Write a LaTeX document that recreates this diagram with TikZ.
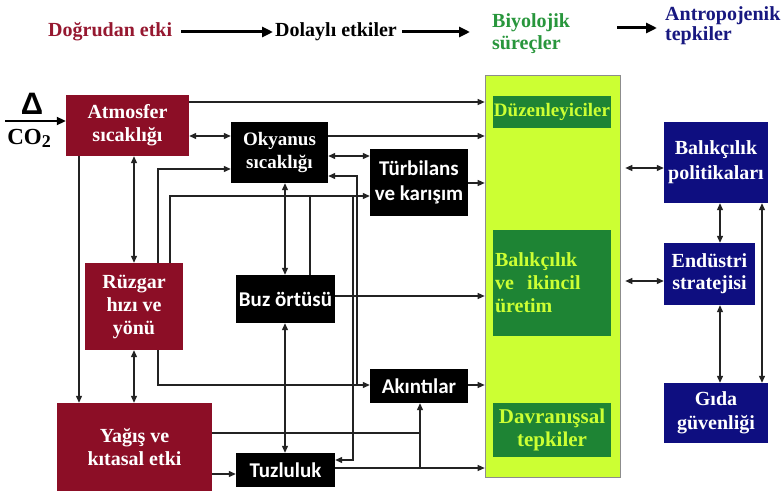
\documentclass[tikz,border=0pt]{standalone}
\usepackage{fontspec}
\setmainfont{Liberation Serif}
\newfontfamily\sansb{Carlito}
\newfontfamily\arialf{Liberation Sans}
\usetikzlibrary{arrows.meta}
\definecolor{bred}{RGB}{140,14,38}
\definecolor{hred}{RGB}{150,24,48}
\definecolor{bblue}{RGB}{14,14,128}
\definecolor{hblue}{RGB}{24,24,128}
\definecolor{dgreen}{RGB}{30,132,52}
\definecolor{hgreen}{RGB}{40,150,60}
\definecolor{limec}{RGB}{204,255,51}
\definecolor{linec}{RGB}{35,35,35}
\begin{document}
\begin{tikzpicture}[x=1pt,y=-1pt,
  box/.style={rectangle, inner sep=0pt, align=center, font=\bfseries\fontsize{20}{23}\selectfont},
  redbox/.style={box, fill=bred, text=white},
  blkbox/.style={box, fill=black, text=white},
  sansbox/.style={blkbox, font=\sansb\bfseries\fontsize{21}{25}\selectfont},
  bluebox/.style={box, fill=bblue, text=white},
  grnbox/.style={box, fill=dgreen, text=limec},
  hdr/.style={inner sep=0pt, anchor=west, align=left, font=\bfseries\fontsize{20}{22}\selectfont},
  conn/.style={draw=linec, line width=1.2pt, -{Triangle[length=7pt,width=6pt]}},
  dconn/.style={draw=linec, line width=1.2pt, {Triangle[length=7pt,width=6pt]}-{Triangle[length=7pt,width=6pt]}},
  plainln/.style={draw=linec, line width=1.2pt},
  harr/.style={draw=black, line width=3pt, -{Triangle[length=11pt,width=10pt]}},
]
\useasboundingbox (0,0) rectangle (784,495);
\fill[white] (0,0) rectangle (784,495);

% header
\node[hdr, text=hred] (h1) at (48,32) {Doğrudan etki};
\node[hdr, text=black] (h2) at (275,32) {Dolaylı etkiler};
\node[hdr, text=hgreen] (h3) at (492,34) {Biyolojik\\süreçler};
\node[hdr, text=hblue, font=\bfseries\fontsize{20}{20}\selectfont] (h4) at (665,26) {Antropojenik\\tepkiler};
\coordinate (y28) at (0,28);
\draw[harr, shorten <=9pt, shorten >=2pt] (h1.east) -- (h2.west);
\draw[harr, shorten <=5pt, shorten >=22pt] (h2.east) -- (h2.east -| h3.west);
\draw[harr, shorten <=47pt, shorten >=8pt] (h3.east |- y28) -- (h4.west |- y28);

% boxes
\node[redbox, minimum width=123pt, minimum height=61pt] (atm) at (127.5,125.5) {Atmosfer\\sıcaklığı};
\node[blkbox, minimum width=97pt, minimum height=61pt, font=\bfseries\fontsize{19}{23}\selectfont] (oky) at (279.5,152.5) {Okyanus\\sıcaklığı};
\node[sansbox, minimum width=98pt, minimum height=67pt] (turb) at (419,182.5) {Türbilans\\ve karışım};
\node[redbox, minimum width=98pt, minimum height=87pt] (ruz) at (134,306.5) {Rüzgar\\hızı ve\\yönü};
\node[redbox, minimum width=155pt, minimum height=88pt] (yag) at (134.5,447) {Yağış ve\\kıtasal etki};
\node[sansbox, minimum width=99pt, minimum height=48pt] (buz) at (285.5,299) {Buz örtüsü};
\node[sansbox, minimum width=98pt, minimum height=34pt] (akin) at (419,386) {Akıntılar};
\node[sansbox, minimum width=99pt, minimum height=34pt] (tuz) at (285.5,470) {Tuzluluk};

\node[rectangle, inner sep=0pt, fill=limec, draw=black!45, line width=0.6pt, minimum width=135pt, minimum height=402pt] (grn) at (552.5,276) {};
\node[grnbox, minimum width=118pt, minimum height=32pt, font=\bfseries\fontsize{19}{23}\selectfont] (duz) at (552,112) {Düzenleyiciler};
\node[grnbox, minimum width=118pt, minimum height=106pt, text width=114pt, align=left] (bal) at (552,283) {Balıkçılık\\ve~~ikincil\\üretim};
\node[grnbox, minimum width=118pt, minimum height=54pt, font=\bfseries\fontsize{21}{23}\selectfont] (dav) at (552,430) {Davranışsal\\tepkiler};

\node[bluebox, minimum width=104pt, minimum height=81pt, font=\bfseries\fontsize{20}{25}\selectfont] (pol) at (716,162.5) {Balıkçılık\\politikaları};
\node[bluebox, minimum width=91pt, minimum height=62pt, font=\bfseries\fontsize{20}{22}\selectfont] (end) at (709.5,274) {Endüstri\\stratejisi};
\node[bluebox, minimum width=104pt, minimum height=60pt, font=\bfseries\fontsize{20}{24}\selectfont] (gida) at (716,413) {Gıda\\güvenliği};

% input
\node[inner sep=0pt, font=\arialf\bfseries\fontsize{31}{31}\selectfont] (delta) at (32,104) {Δ};
\node[inner sep=0pt, font=\bfseries\fontsize{23}{23}\selectfont] (co2) at (29,138) {CO\raisebox{-3pt}{\fontsize{18}{18}\selectfont 2}};
\coordinate (inp) at (5,121);
\draw[draw=black, line width=2pt, -{Triangle[length=9pt,width=8pt]}] (inp) -- (inp -| atm.west);

% helper coordinates
\coordinate (x79) at (79,0);
\coordinate (x134) at (134,0);
\coordinate (x158) at (158,0);
\coordinate (x170) at (170,0);
\coordinate (x285) at (285,0);
\coordinate (x310) at (310,0);
\coordinate (x353) at (353,0);
\coordinate (x357) at (357,0);
\coordinate (x420) at (420,0);
\coordinate (x720) at (720,0);
\coordinate (x762) at (762,0);
\coordinate (y102) at (0,102);
\coordinate (y136) at (0,136);
\coordinate (y156) at (0,156);
\coordinate (y168) at (0,168);
\coordinate (y169) at (0,169);
\coordinate (y176) at (0,176);
\coordinate (y183) at (0,183);
\coordinate (y196) at (0,196);
\coordinate (y281) at (0,281);
\coordinate (y296) at (0,296);
\coordinate (y385) at (0,385);
\coordinate (y433) at (0,433);
\coordinate (y460) at (0,460);
\coordinate (y468) at (0,468);
\coordinate (y474) at (0,474);

% connectors
\draw[conn] (atm.east |- y102) -- (grn.west |- y102);
\draw[dconn] (atm.east |- y136) -- (oky.west |- y136);
\draw[conn] (oky.east |- y136) -- (grn.west |- y136);
\draw[dconn] (oky.east |- y156) -- (turb.west |- y156);
\draw[conn] (turb.east |- y183) -- (grn.west |- y183);
\draw[dconn] (atm.south -| x134) -- (ruz.north -| x134);
\draw[conn] (atm.south -| x79) -- (yag.north -| x79);
\draw[dconn] (ruz.south -| x134) -- (yag.north -| x134);
\draw[conn] (ruz.north -| x158) |- (oky.west |- y169);
\draw[conn] (ruz.north -| x170) |- (turb.west |- y196);
\draw[conn] (ruz.south -| x158) |- (akin.west |- y385);
\draw[dconn] (oky.south -| x285) -- (buz.north -| x285);
\draw[dconn] (buz.south -| x285) -- (tuz.north -| x285);
\draw[plainln] (buz.north -| x310) -- (x310 |- y196);
\draw[conn] (x357 |- y385) |- (oky.east |- y176);
\draw[conn] (x353 |- y196) |- (tuz.east |- y460);
\draw[conn] (buz.east |- y296) -- (grn.west |- y296);
\draw[conn] (akin.east |- y385) -- (grn.west |- y385);
\draw[plainln] (yag.east |- y433) -- (x420 |- y433);
\draw[conn] (x420 |- y468) -- (akin.south -| x420);
\draw[conn] (tuz.east |- y468) -- (grn.west |- y468);
\draw[conn] (yag.east |- y474) -- (tuz.west |- y474);
\draw[dconn, shorten <=5pt] (grn.east |- y168) -- (pol.west |- y168);
\draw[dconn, shorten <=5pt] (grn.east |- y281) -- (end.west |- y281);
\draw[dconn] (pol.south -| x720) -- (end.north -| x720);
\draw[dconn] (end.south -| x720) -- (gida.north -| x720);
\draw[dconn] (pol.south -| x762) -- (gida.north -| x762);
\end{tikzpicture}
\end{document}
